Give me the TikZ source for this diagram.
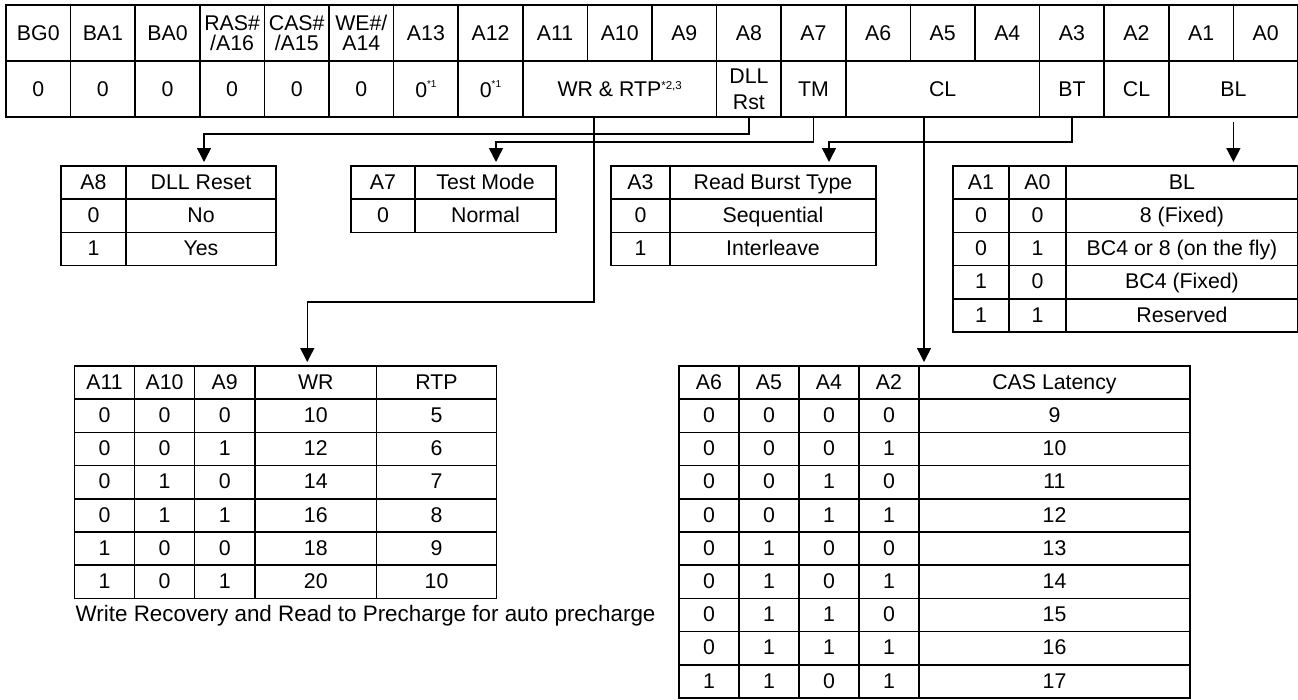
\documentclass[tikz,border=0pt]{standalone}
\usepackage{fontspec}
\setmainfont{Liberation Sans}
\usetikzlibrary{arrows.meta,positioning,calc}

\newcommand{\notemark}[3]{\raisebox{#1}{\fontsize{#2}{#2}\selectfont #3}}

\begin{document}
\begin{tikzpicture}[x=1pt, y=-1pt,
     regcell/.style = {draw, line width=1.6pt, outer sep=0pt, inner sep=0pt,
      minimum width=64.6pt, minimum height=56pt, align=center,
      font=\fontsize{21.3}{20}\selectfont},
     cell/.style = {draw, line width=1.6pt, outer sep=0pt, inner sep=0pt,
      minimum height=33.2pt, text height=15.2pt, text depth=2pt,
      font=\fontsize{21.3}{18.5}\selectfont},
     arr/.style = {draw, line width=1.5pt, -{Triangle[length=14pt,width=14pt]}, shorten >=4pt}
    ]
    \useasboundingbox[fill=white] (0,0) rectangle (1298,699);

    % mode register, address row
    \node [regcell, anchor=north west] (r0) at (6,5) {BG0};
    \foreach \lbl [count=\i, remember=\i as \j (initially 0)] in {BA1,BA0,{RAS\#\\/A16},{CAS\#\\/A15},{WE\#/\\A14},A13,A12,A11,A10,A9,A8,A7,A6,A5,A4,A3,A2,A1,A0}
        \node [regcell, right=0pt of r\j] (r\i) {\lbl};

    % mode register, value row
    \node [regcell, anchor=north west] (v0) at (6,61) {0};
    \foreach \i [remember=\i as \j (initially 0)] in {1,...,5}
        \node [regcell, right=0pt of v\j] (v\i) {0};
    \node [regcell, right=0pt of v5] (v6) {0\notemark{10pt}{10}{*1}};
    \node [regcell, right=0pt of v6] (v7) {0\notemark{10pt}{10}{*1}};
    \node [regcell, right=0pt of v7, minimum width=193.8pt] (v8) {WR \& RTP\notemark{7pt}{11.5}{*2,3}};
    \node [regcell, right=0pt of v8] (v11) {DLL\\[6pt]Rst};
    \node [regcell, right=0pt of v11] (v12) {TM};
    \node [regcell, right=0pt of v12, minimum width=193.8pt] (v13) {CL};
    \node [regcell, right=0pt of v13] (v16) {BT};
    \node [regcell, right=0pt of v16] (v17) {CL};
    \node [regcell, right=0pt of v17, minimum width=129.2pt] (v18) {BL};

    % DLL reset
    \node [cell, anchor=north west, minimum width=65pt] (dll0) at (61,166) {A8};
    \node [cell, right=0pt of dll0, minimum width=150pt] (dllhd) {DLL Reset};
    \foreach \b/\t [count=\row, remember=\row as \q (initially 0)] in {0/No, 1/Yes} {
        \node [cell, below=0pt of dll\q, minimum width=65pt] (dll\row) {\b};
        \node [cell, right=0pt of dll\row, minimum width=150pt] {\t};
    }

    % test mode
    \node [cell, anchor=north west, minimum width=64pt] (tm0) at (351,166) {A7};
    \node [cell, right=0pt of tm0, minimum width=141pt] (tmhd) {Test Mode};
    \node [cell, below=0pt of tm0, minimum width=64pt] (tm1) {0};
    \node [cell, right=0pt of tm1, minimum width=141pt] {Normal};

    % read burst type
    \node [cell, anchor=north west, minimum width=59pt] (rbt0) at (611,166) {A3};
    \node [cell, right=0pt of rbt0, minimum width=206pt] (rbthd) {Read Burst Type};
    \foreach \b/\t [count=\row, remember=\row as \q (initially 0)] in {0/Sequential, 1/Interleave} {
        \node [cell, below=0pt of rbt\q, minimum width=59pt] (rbt\row) {\b};
        \node [cell, right=0pt of rbt\row, minimum width=206pt] {\t};
    }

    % burst length
    \node [cell, anchor=north west, minimum width=56pt] (bl0) at (953,166) {A1};
    \node [cell, right=0pt of bl0, minimum width=57pt] (bl0b) {A0};
    \node [cell, right=0pt of bl0b, minimum width=232pt] (blhd) {BL};
    \foreach \p/\s/\t [count=\row, remember=\row as \q (initially 0)] in {0/0/8 (Fixed), 0/1/BC4 or 8 (on the fly), 1/0/BC4 (Fixed), 1/1/Reserved} {
        \node [cell, below=0pt of bl\q, minimum width=56pt] (bl\row) {\p};
        \node [cell, right=0pt of bl\row, minimum width=57pt] (bl\row b) {\s};
        \node [cell, right=0pt of bl\row b, minimum width=232pt] {\t};
    }

    % write recovery / read to precharge
    \node [cell, anchor=north west, minimum width=60pt] (wr0) at (74.5,366) {A11};
    \node [cell, right=0pt of wr0, minimum width=60pt] (wr0b) {A10};
    \node [cell, right=0pt of wr0b, minimum width=60.5pt] (wr0c) {A9};
    \node [cell, right=0pt of wr0c, minimum width=121.5pt] (wrhd) {WR};
    \node [cell, right=0pt of wrhd, minimum width=120pt] {RTP};
    \foreach \p/\s/\u/\w/\t [count=\row, remember=\row as \q (initially 0)] in {0/0/0/10/5, 0/0/1/12/6, 0/1/0/14/7, 0/1/1/16/8, 1/0/0/18/9, 1/0/1/20/10} {
        \node [cell, below=0pt of wr\q, minimum width=60pt] (wr\row) {\p};
        \node [cell, right=0pt of wr\row, minimum width=60pt] (wr\row b) {\s};
        \node [cell, right=0pt of wr\row b, minimum width=60.5pt] (wr\row c) {\u};
        \node [cell, right=0pt of wr\row c, minimum width=121.5pt] (wr\row d) {\w};
        \node [cell, right=0pt of wr\row d, minimum width=120pt] {\t};
    }
    \node [anchor=north west, inner sep=0pt, font=\fontsize{22.4}{20}\selectfont] (note) at ($(wr6.south west)+(1,7)$) {Write Recovery and Read to Precharge for auto precharge};

    % CAS latency
    \node [cell, anchor=north west, minimum width=60pt] (cas0) at (679,366) {A6};
    \node [cell, right=0pt of cas0, minimum width=60pt] (cas0b) {A5};
    \node [cell, right=0pt of cas0b, minimum width=60pt] (cas0c) {A4};
    \node [cell, right=0pt of cas0c, minimum width=60pt] (cas0d) {A2};
    \node [cell, right=0pt of cas0d, minimum width=271pt] (cashd) {CAS Latency};
    \foreach \p/\s/\u/\w/\t [count=\row, remember=\row as \q (initially 0)] in {0/0/0/0/9, 0/0/0/1/10, 0/0/1/0/11, 0/0/1/1/12, 0/1/0/0/13, 0/1/0/1/14, 0/1/1/0/15, 0/1/1/1/16, 1/1/0/1/17} {
        \node [cell, below=0pt of cas\q, minimum width=60pt] (cas\row) {\p};
        \node [cell, right=0pt of cas\row, minimum width=60pt] (cas\row b) {\s};
        \node [cell, right=0pt of cas\row b, minimum width=60pt] (cas\row c) {\u};
        \node [cell, right=0pt of cas\row c, minimum width=60pt] (cas\row d) {\w};
        \node [cell, right=0pt of cas\row d, minimum width=271pt] {\t};
    }

    % field connectors
    \draw[arr] (v11.south) -- ++(0,17) -| ([xshift=3pt]dllhd.north);
    \draw[arr] (v12.south) -- ++(0,25) -| ([xshift=10.5pt]tmhd.north);
    \draw[arr] (v16.south) -- ++(0,25) -| ([xshift=56pt]rbthd.north);
    \draw[arr] ([xshift=-25.7pt]v8.south) -- ++(0,185) -| ([xshift=-8.5pt]wrhd.north);
    \coordinate (clx) at ([xshift=-18.7pt]v13.south);
    \draw[arr] (clx) -- (clx |- cashd.north);
    \coordinate (blx) at ([yshift=-5pt]v18.south);
    \draw[arr] (blx) -- (blx |- blhd.north);
\end{tikzpicture}
\end{document}
